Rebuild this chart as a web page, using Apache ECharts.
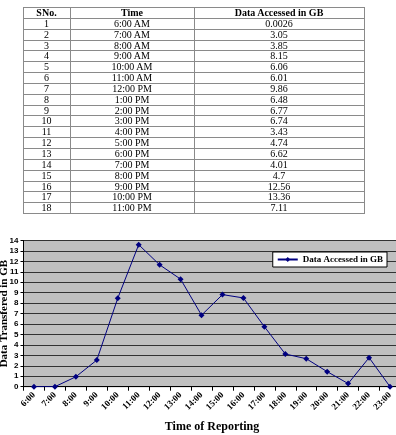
<!DOCTYPE html>
<html>
<head>
<meta charset="utf-8">
<script src="https://cdn.jsdelivr.net/npm/echarts@6/dist/echarts.min.js"></script>
<style>
html,body{margin:0;padding:0;background:#fff;width:396px;height:435px;overflow:hidden;}
#chart{position:absolute;left:0;top:0;width:396px;height:435px;}
#tbl{position:absolute;left:22.5px;top:7px;border-collapse:collapse;table-layout:fixed;font-family:"Liberation Serif",serif;font-size:10px;color:#000;}
#tbl td,#tbl th{border:1px solid #8a8a8a;height:9.84px;padding:0;line-height:9.84px;text-align:center;white-space:nowrap;}
#tbl th{font-weight:bold;}
</style>
</head>
<body>
<div id="chart"></div>
<table id="tbl"></table>
<script>
// Table data
const tableHeaders = ['SNo.', 'Time', 'Data Accessed in GB'];
const tableSNo = [1,2,3,4,5,6,7,8,9,10,11,12,13,14,15,16,17,18];
const tableTimes = ['6:00 AM','7:00 AM','8:00 AM','9:00 AM','10:00 AM','11:00 AM','12:00 PM','1:00 PM','2:00 PM','3:00 PM','4:00 PM','5:00 PM','6:00 PM','7:00 PM','8:00 PM','9:00 PM','10:00 PM','11:00 PM'];
const tableData = ['0.0026','3.05','3.85','8.15','6.06','6.01','9.86','6.48','6.77','6.74','3.43','4.74','6.62','4.01','4.7','12.56','13.36','7.11'];

// Chart data
const categories = ['6:00','7:00','8:00','9:00','10:00','11:00','12:00','13:00','14:00','15:00','16:00','17:00','18:00','19:00','20:00','21:00','22:00','23:00'];
const seriesValues = [0, 0, 0.95, 2.55, 8.47, 13.6, 11.67, 10.3, 6.85, 8.82, 8.5, 5.75, 3.13, 2.68, 1.44, 0.3, 2.78, 0];
const seriesName = 'Data Accessed in GB';

// Build table
const colWidths = [47, 124, 170];
const tbl = document.getElementById('tbl');
let html = '<colgroup>' + colWidths.map(w => '<col style="width:' + w + 'px">').join('') + '</colgroup>';
html += '<tr>' + tableHeaders.map(h => '<th>' + h + '</th>').join('') + '</tr>';
for (let i = 0; i < tableSNo.length; i++) {
  html += '<tr><td>' + tableSNo[i] + '</td><td>' + tableTimes[i] + '</td><td>' + tableData[i] + '</td></tr>';
}
tbl.innerHTML = html;

const chart = echarts.init(document.getElementById('chart'), null, {renderer: 'canvas'});
chart.setOption({
  animation: false,
  grid: {
    left: 23.5, top: 240.5, right: -4.5, bottom: 48.3,
    containLabel: false,
    outerBoundsMode: 'none',
    show: true, backgroundColor: '#c0c0c0', borderColor: '#808080', borderWidth: 1
  },
  legend: {
    data: [seriesName],
    right: 9, top: 252,
    backgroundColor: '#fff', borderColor: '#000', borderWidth: 1,
    padding: [3, 4, 3, 4],
    itemWidth: 20, itemHeight: 6, itemGap: 4,
    textStyle: {fontFamily: 'Liberation Serif', fontWeight: 'bold', fontSize: 9, color: '#000'}
  },
  xAxis: {
    type: 'category',
    data: categories,
    boundaryGap: true,
    name: 'Time of Reporting',
    nameLocation: 'middle',
    nameGap: 34,
    nameMoveOverlap: false,
    nameTextStyle: {fontFamily: 'Liberation Serif', fontWeight: 'bold', fontSize: 12, color: '#000'},
    axisLine: {show: true, lineStyle: {color: '#000', width: 1}},
    axisTick: {show: true, length: 4, lineStyle: {color: '#000'}},
    axisLabel: {interval: 0, rotate: 45, margin: 7, fontFamily: 'Liberation Serif', fontWeight: 'bold', fontSize: 9, color: '#000'},
    splitLine: {show: false}
  },
  yAxis: {
    type: 'value',
    min: 0, max: 14, interval: 1,
    name: 'Data Transfered in GB',
    nameLocation: 'middle',
    nameGap: 14,
    nameMoveOverlap: false,
    nameTextStyle: {fontFamily: 'Liberation Serif', fontWeight: 'bold', fontSize: 11, color: '#000'},
    axisLine: {show: true, lineStyle: {color: '#000', width: 1}},
    axisTick: {show: true, length: 3, lineStyle: {color: '#000'}},
    axisLabel: {margin: 5, fontFamily: 'Liberation Sans', fontWeight: 'bold', fontSize: 8, color: '#000'},
    splitLine: {show: true, lineStyle: {color: '#333', width: 1}}
  },
  series: [{
    name: seriesName,
    type: 'line',
    data: seriesValues,
    symbol: 'diamond',
    symbolSize: 6,
    itemStyle: {color: '#000080'},
    lineStyle: {color: '#000080', width: 1}
  }]
});
</script>
</body>
</html>
